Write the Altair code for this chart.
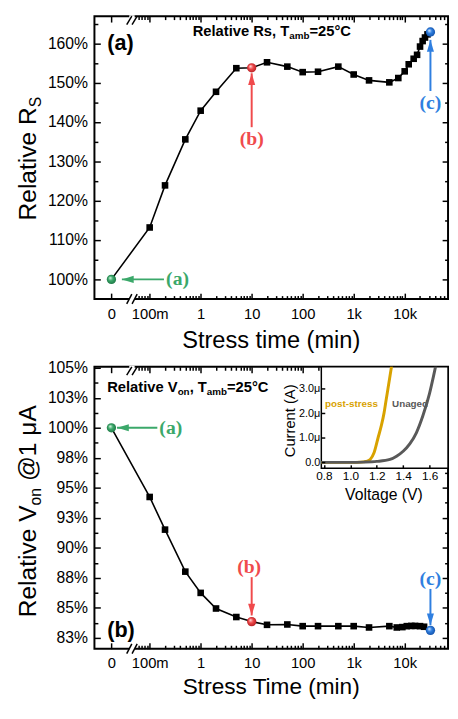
import altair as alt
import numpy as np
import pandas as pd

SANS = "Liberation Sans"
SERIF = "Liberation Serif"

# ---------------- data ----------------
T_RS = [0, 0.1, 0.2, 0.5, 1, 2, 5, 10, 20, 50, 100, 200, 500, 1000, 2000, 5000,
        7500, 10000, 12000, 15000, 17500, 20000, 22500, 25000, 28000, 32000]
RS = [100.0, 113.2, 123.9, 135.6, 142.9, 147.7, 153.7, 153.8, 155.2, 154.1, 152.7,
      152.8, 154.1, 152.1, 150.6, 150.1, 151.2, 152.9, 154.7, 156.1, 157.1, 159.2,
      160.6, 161.5, 162.3, 162.9]

T_VON = [0, 0.1, 0.2, 0.5, 1, 2, 5, 10, 20, 50, 100, 200, 500, 1000, 2000, 5000,
         7000, 9000, 11000, 13500, 16000, 20000, 24000, 32000]
VON = [100.0, 94.24, 91.52, 88.02, 86.25, 84.95, 84.24, 83.86, 83.59, 83.62, 83.48,
       83.48, 83.48, 83.48, 83.37, 83.48, 83.37, 83.40, 83.48, 83.50, 83.50, 83.48,
       83.43, 83.13]

STATE_T = [0, 10, 32000]
STATE_LABELS = ["(a)", "(b)", "(c)"]
STATE_COLORS = ["#3ba86a", "#f04a4c", "#2f7fe0"]
STATE_LIGHT = ["#eafff1", "#ffeaea", "#e8f3ff"]
STATE_DARK = ["#1c7443", "#b01c20", "#124fa6"]

X_TICK_T = [0, 0.1, 1, 10, 100, 1000, 10000]
X_TICK_LABELS = ["0", "100m", "1", "10", "100", "1k", "10k"]

RS_TICKS = [100, 110, 120, 130, 140, 150, 160]
RS_MINOR = [105, 115, 125, 135, 145, 155, 165]
VON_TICKS = [82.5, 85, 87.5, 90, 92.5, 95, 97.5, 100, 102.5, 105]
VON_MINOR = [83.75, 86.25, 88.75, 91.25, 93.75, 96.25, 98.75, 101.25, 103.75]

# inset I-V curves (voltage in V, current in uA)
V_POST = [0.78, 1.00, 1.08, 1.12, 1.15, 1.18, 1.21, 1.235, 1.255, 1.27, 1.285, 1.30, 1.315]
I_POST = [0.0, 0.0, 0.01, 0.04, 0.12, 0.4, 1.0, 1.5, 2.0, 2.5, 3.0, 3.5, 4.0]
V_UNAGED = [0.78, 1.0, 1.1, 1.2, 1.3, 1.35, 1.4, 1.45, 1.5, 1.55, 1.6, 1.63, 1.65]
I_UNAGED = [0.0, 0.0, 0.01, 0.04, 0.12, 0.25, 0.45, 0.75, 1.2, 1.9, 2.8, 3.5, 4.0]
INSET_X_TICKS = [0.8, 1.0, 1.2, 1.4, 1.6]
INSET_Y_TICKS = [0, 1, 2, 3]
GOLD = "#d8a200"
GREY = "#595959"

# ---------------- layout helpers ----------------
W = 360
H_TOP, H_BOT = 288, 287
XDOM = [-2.083, 4.85]
ZERO_U = -1.75
BREAK_C = [-1.40, -1.295]


def to_u(t):
    return ZERO_U if t == 0 else float(np.log10(t))


X_TICK_U = [to_u(t) for t in X_TICK_T]
X_MINOR_U = [float(n + np.log10(k)) for n in range(-2, 5) for k in range(2, 10)
             if -1.25 <= n + np.log10(k) <= 4.84]
XEXPR = "".join(f"abs(datum.value - ({u})) < 0.01 ? '{lab}' : "
                for u, lab in zip(X_TICK_U, X_TICK_LABELS)) + "''"
YEXPR = "format(datum.value, '.0f') + '%'"

REG = {'R': 722, 'e': 556, 'l': 222, 'a': 556, 't': 278, 'i': 222, 'v': 500, ' ': 278,
       'V': 667, 'o': 556, 'n': 556, 'S': 667}
BOLD = {'R': 722, 'e': 556, 'l': 278, 'a': 556, 't': 333, 'i': 278, 'v': 556, ' ': 278,
        's': 556, ',': 278, 'T': 611, 'V': 667, 'o': 611, 'n': 611, 'm': 889, 'b': 611}


def tw(s, size, table):
    return sum(table[c] for c in s) * size / 1000.0


ONE = pd.DataFrame({"k": [0]})


def ptext(s, x, y, size, weight="normal", color="black", align="left",
          baseline="alphabetic", angle=0, font=SANS):
    kw = dict(text=s, fontSize=size, fontWeight=weight, color=color, align=align,
              baseline=baseline, font=font)
    if angle:
        kw["angle"] = angle
    return alt.Chart(ONE).mark_text(**kw).encode(x=alt.value(x), y=alt.value(y))


def axis(orient, values, size, labels=False, expr=None, pad=0, fs=16, offset=0, zindex=0):
    kw = dict(orient=orient, values=[float(v) for v in values], tickSize={"expr": str(-size)},
              ticks=True, domain=False, grid=False, labels=labels, tickColor="black",
              tickWidth=1.5, minExtent=0, maxExtent=200)
    if offset:
        kw["offset"] = offset
    if zindex:
        kw["zindex"] = zindex
    if labels:
        kw.update(labelExpr=expr, labelPadding=pad, labelFont=SANS, labelFontSize=fs,
                  labelColor="black", labelFlush=False, labelOverlap=False, labelBound=False)
    return alt.Axis(**kw)


def grad(i):
    return {"gradient": "radial", "x1": 0.35, "y1": 0.32, "r1": 0.0,
            "x2": 0.5, "y2": 0.5, "r2": 0.55,
            "stops": [{"offset": 0, "color": STATE_LIGHT[i]},
                      {"offset": 0.45, "color": STATE_COLORS[i]},
                      {"offset": 1, "color": STATE_DARK[i]}]}


HEADS = {"left": ("M-1,0L1,-0.6L1,0.6Z", 6, 0),
         "up": ("M0,-1L-0.6,1L0.6,1Z", 0, 6),
         "down": ("M0,1L-0.6,-1L0.6,-1Z", 0, -6)}


def make_panel(H, t_list, vals, ydom, ymaj, ymin, arrows, labels, extra):
    df = pd.DataFrame({"u": [to_u(t) for t in t_list], "v": vals, "t": t_list})
    xs = alt.Scale(domain=XDOM, nice=False, zero=False)
    ys = alt.Scale(domain=ydom, nice=False, zero=False)

    def X(f="u", ax=None):
        return alt.X(f"{f}:Q", scale=xs, axis=ax, title=None)

    def Y(f="v", ax=None):
        return alt.Y(f"{f}:Q", scale=ys, axis=ax, title=None)

    base = alt.Chart(df)
    layers = [
        base.mark_point(opacity=0).encode(
            X(ax=axis("bottom", X_TICK_U, 6, True, XEXPR, 13.5, 15)),
            Y(ax=axis("left", ymaj, 6, True, YEXPR, 13, 16))),
        base.mark_point(opacity=0).encode(
            X(ax=axis("bottom", X_MINOR_U, 3.5)), Y(ax=axis("left", ymin, 3.5))),
        base.mark_point(opacity=0).encode(
            X(ax=axis("top", X_TICK_U, 6)), Y(ax=axis("right", ymaj, 6))),
        base.mark_point(opacity=0).encode(
            X(ax=axis("top", X_MINOR_U, 3.5)), Y(ax=axis("right", ymin, 3.5))),
    ]
    # axis break
    gap = pd.DataFrame({"u0": [BREAK_C[0]], "u1": [BREAK_C[1]]})
    layers.append(alt.Chart(gap).mark_rect(fill="white").encode(
        x=X("u0"), x2="u1", y=alt.value(-1), y2=alt.value(H + 2)))
    strokes = pd.DataFrame({"u0": [c - 0.05 for c in BREAK_C], "u1": [c + 0.05 for c in BREAK_C]})
    for y0, y1 in [(H + 5, H - 5), (8.5, 0)]:
        layers.append(alt.Chart(strokes).mark_rule(color="black", strokeWidth=1.5).encode(
            x=X("u0"), x2="u1", y=alt.value(y0), y2=alt.value(y1)))
    # data
    layers.append(base.mark_line(color="black", strokeWidth=1.6).encode(X(), Y()))
    layers.append(base.transform_filter(f"indexof({STATE_T}, datum.t) < 0")
                  .mark_square(size=45, color="black", opacity=1).encode(X(), Y()))
    for i, t in enumerate(STATE_T):
        layers.append(base.transform_filter(f"datum.t == {t}")
                      .mark_point(shape="circle", filled=True, fill=grad(i), size=90,
                                  strokeWidth=0, opacity=1).encode(X(), Y()))
    # arrows
    for i, (u0, v0, u1, v1, d) in enumerate(arrows):
        a = pd.DataFrame({"u0": [u0], "v0": [v0], "u1": [u1], "v1": [v1]})
        layers.append(alt.Chart(a).mark_rule(color=STATE_COLORS[i], strokeWidth=2).encode(
            x=X("u0"), y=Y("v0"), x2="u1", y2="v1"))
        shp, xo, yo = HEADS[d]
        layers.append(alt.Chart(a).mark_point(shape=shp, filled=True, fill=STATE_COLORS[i],
                                              size=144, strokeWidth=0, opacity=1,
                                              xOffset=xo, yOffset=yo).encode(
            x=X("u1"), y=Y("v1")))
    for i, (u, v, al) in enumerate(labels):
        lb = pd.DataFrame({"u": [u], "v": [v], "s": [STATE_LABELS[i]]})
        layers.append(alt.Chart(lb).mark_text(font=SERIF, fontWeight="bold", fontSize=20,
                                              color=STATE_COLORS[i], align=al,
                                              baseline="middle").encode(
            x=X("u"), y=Y("v"), text="s:N"))
    layers += extra
    return alt.layer(*layers).resolve_scale(x="independent", y="independent").properties(
        width=W, height=H)


# ---------------- top panel ----------------
hx, hy = 100, 20.3
w1 = tw("Relative Rs, T", 15, BOLD)
w2 = tw("amb", 10, BOLD)
wy = tw("Relative R", 25, REG)
top_extra = [
    ptext("(a)", 13, 27, 22, weight="bold", baseline="middle"),
    ptext("Relative Rs, T", hx, hy, 15, weight="bold"),
    ptext("amb", hx + w1, hy + 3, 10, weight="bold"),
    ptext("=25°C", hx + w1 + w2, hy, 15, weight="bold"),
    ptext("Relative R", -59, 208, 25, angle=270),
    ptext("S", -54, 208 - wy, 16, angle=270),
    ptext("Stress time (min)", W / 2, H_TOP + 50, 24, align="center"),
]
top = make_panel(
    H_TOP, T_RS, RS, [95.0, 166.93], RS_TICKS, RS_MINOR,
    arrows=[(-0.72, 100, -1.545, 100, "left"), (1, 138.7, 1, 152.4, "up"),
            (4.505, 147.9, 4.505, 160.9, "up")],
    labels=[(-0.678, 100, "left"), (1, 135.7, "center"), (4.505, 144.9, "center")],
    extra=top_extra)

# ---------------- bottom panel ----------------
H = H_BOT
bx, by = 13, 26
b1 = tw("Relative V", 15, BOLD)
b2 = tw("on", 10, BOLD)
b3 = tw(", T", 15, BOLD)
b4 = tw("amb", 10, BOLD)
v1 = tw("Relative V", 25, REG)
v2 = tw("on", 16, REG)
vs = tw(" ", 25, REG)

IH = 103.3
xi = alt.Scale(domain=[0.78, 1.74], range=[231, 360], nice=False, zero=False)
yi = alt.Scale(domain=[-0.24, 3.88], range=[IH, 0], nice=False, zero=False)
frame_df = pd.DataFrame({"v0": [0.78], "v1": [1.74], "i0": [-0.24], "i1": [3.88]})
IEXPR = "datum.value == 0 ? '0.0' : format(datum.value, '.1f') + 'μ'"
inset_bg = alt.Chart(frame_df).mark_rect(fill="white", stroke="black", strokeWidth=1.5).encode(
    x=alt.X("v0:Q", scale=xi, title=None,
            axis=axis("bottom", INSET_X_TICKS, 3.5, True, "format(datum.value, '.1f')", 5.5, 12,
                      offset=-(H - IH), zindex=1)),
    x2="v1",
    y=alt.Y("i0:Q", scale=yi, title=None,
            axis=axis("left", INSET_Y_TICKS, 3.5, True, IEXPR, 5, 11, offset=-231, zindex=1)),
    y2="i1")
post_line = alt.Chart(pd.DataFrame({"V": V_POST, "I": I_POST})).mark_line(
    color=GOLD, strokeWidth=3, interpolate="monotone", clip=True).encode(
    x=alt.X("V:Q", scale=xi, axis=None, title=None), y=alt.Y("I:Q", scale=yi, axis=None, title=None))
unaged_line = alt.Chart(pd.DataFrame({"V": V_UNAGED, "I": I_UNAGED})).mark_line(
    color=GREY, strokeWidth=3, interpolate="monotone", clip=True).encode(
    x=alt.X("V:Q", scale=xi, axis=None, title=None), y=alt.Y("I:Q", scale=yi, axis=None, title=None))

bottom_extra = [
    inset_bg, post_line, unaged_line,
    ptext("post-stress", 234.7, 38, 10, weight="bold", color=GOLD, baseline="middle"),
    ptext("Unaged", 303, 38, 10, weight="bold", color=GREY, baseline="middle"),
    ptext("Current (A)", 199.7, 55, 15, angle=270, align="center", baseline="middle"),
    ptext("Voltage (V)", 294.7, 130.7, 16, align="center", baseline="middle"),
    ptext("(b)", 13, 268, 22, weight="bold", baseline="middle"),
    ptext("Relative V", bx, by, 15, weight="bold"),
    ptext("on", bx + b1, by + 3, 10, weight="bold"),
    ptext(", T", bx + b1 + b2, by, 15, weight="bold"),
    ptext("amb", bx + b1 + b2 + b3, by + 3, 10, weight="bold"),
    ptext("=25°C", bx + b1 + b2 + b3 + b4, by, 15, weight="bold"),
    ptext("Relative V", -59, 255, 25, angle=270),
    ptext("on", -54, 255 - v1, 16, angle=270),
    ptext("@1 μA", -59, 255 - v1 - v2 - vs, 25, angle=270),
    ptext("Stress Time (min)", W / 2, H + 46, 23, align="center"),
]
bottom = make_panel(
    H_BOT, T_VON, VON, [81.6, 105.08], VON_TICKS, VON_MINOR,
    arrows=[(-0.85, 100, -1.64, 100, "left"), (1, 87.56, 1, 84.37, "down"),
            (4.505, 86.58, 4.505, 83.56, "down")],
    labels=[(-0.81, 100, "left"), (0.95, 88.37, "center"), (4.505, 87.39, "center")],
    extra=bottom_extra)

chart = alt.vconcat(top, bottom, spacing=69, bounds="flush").properties(
    padding={"left": 7, "top": 0, "right": 0, "bottom": 0}
).configure(font=SANS).configure_view(stroke="black", strokeWidth=2)

chart.save("out.html", embed_options={"renderer": "svg", "actions": False})
